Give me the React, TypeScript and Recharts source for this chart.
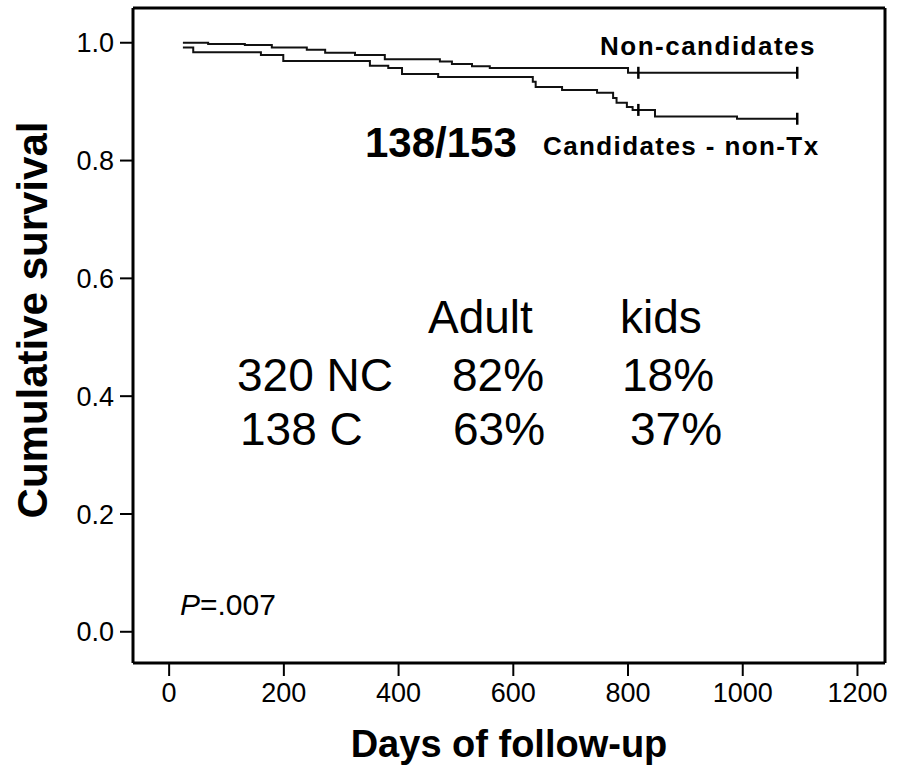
import React from 'react';
import { ComposedChart, Line, XAxis, YAxis, Label, ReferenceLine } from 'recharts';

// Kaplan-Meier steps (days, cumulative survival)
const NC_DAYS = [24, 68, 132, 179, 240, 272, 324, 376, 472, 493, 528, 559, 800, 818, 1095];
const NC_SURV = [1.0, 0.998, 0.996, 0.992, 0.988, 0.983, 0.979, 0.972, 0.968, 0.964, 0.96, 0.957, 0.949, 0.949, 0.949];

const C_DAYS = [24, 42, 160, 199, 350, 382, 406, 469, 634, 639, 685, 746, 774, 780, 798, 808, 818, 847, 990, 1095];
const C_SURV = [0.992, 0.984, 0.979, 0.969, 0.961, 0.957, 0.947, 0.942, 0.934, 0.925, 0.92, 0.915, 0.906, 0.898, 0.891, 0.886, 0.886, 0.875, 0.871, 0.871];

// censored observations (drawn as small ticks)
const CENSOR_DAYS = [818, 1095];

const X_TICKS = [0, 200, 400, 600, 800, 1000, 1200];
const Y_TICKS = [0, 0.2, 0.4, 0.6, 0.8, 1.0];
const X_DOMAIN = [-63, 1248];
const Y_DOMAIN = [-0.053, 1.059];

const TABLE_HEAD = ['Adult', 'kids'];
const TABLE_ROWS = [
  ['320 NC', '82%', '18%'],
  ['138 C', '63%', '37%'],
];

const FONT = '"Liberation Sans", Arial, Helvetica, sans-serif';

const toRows = (days: number[], surv: number[]) =>
  days.map((d, i) => ({ day: d, s: surv[i], censored: CENSOR_DAYS.includes(d) }));

const ncData = toRows(NC_DAYS, NC_SURV);
const cData = toRows(C_DAYS, C_SURV);

const CensorMark = (props: any) => {
  const { cx, cy, payload, index } = props;
  if (!payload || !payload.censored) return <g key={`n-${index}`} />;
  return (
    <line
      key={`c-${index}`}
      x1={cx}
      x2={cx}
      y1={cy - 6}
      y2={cy + 6}
      stroke="#000"
      strokeWidth={2.5}
    />
  );
};

const YTitle = () => (
  <text
    x={32}
    y={320}
    transform="rotate(-90 32 320)"
    textAnchor="middle"
    dominantBaseline="central"
    fontFamily={FONT}
    fontWeight="bold"
    fontSize={42}
    fill="#000"
  >
    Cumulative survival
  </text>
);

export default function App() {
  const tickStyle = { fill: '#000', fontSize: 27, fontFamily: FONT };
  return (
    <div style={{ position: 'absolute', left: 0, top: 0, width: 897, height: 766, background: '#fff' }}>
      <ComposedChart width={897} height={766} margin={{ top: 8, right: 12, bottom: 0, left: 0 }}>
        <XAxis
          dataKey="day"
          type="number"
          domain={X_DOMAIN}
          allowDataOverflow
          ticks={X_TICKS}
          height={103}
          tickSize={13}
          tickMargin={7}
          axisLine={{ stroke: '#000', strokeWidth: 3 }}
          tickLine={{ stroke: '#000', strokeWidth: 2 }}
          tick={tickStyle}
        >
          <Label
            value="Days of follow-up"
            position="insideBottom"
            offset={9}
            style={{ fill: '#000', fontSize: 38, fontWeight: 'bold', fontFamily: FONT }}
          />
        </XAxis>
        <YAxis
          type="number"
          domain={Y_DOMAIN}
          allowDataOverflow
          ticks={Y_TICKS}
          tickFormatter={(v: number) => v.toFixed(1)}
          width={133}
          tickSize={13}
          tickMargin={6}
          axisLine={{ stroke: '#000', strokeWidth: 3 }}
          tickLine={{ stroke: '#000', strokeWidth: 2 }}
          tick={tickStyle}
        >
          <Label content={<YTitle />} />
        </YAxis>
        {/* close the frame on top and right */}
        <ReferenceLine y={Y_DOMAIN[1]} stroke="#000" strokeWidth={3} ifOverflow="visible" />
        <ReferenceLine x={X_DOMAIN[1]} stroke="#000" strokeWidth={3} ifOverflow="visible" />
        <Line
          data={ncData}
          dataKey="s"
          name="Non-candidates"
          type="stepAfter"
          stroke="#111"
          strokeWidth={2}
          dot={CensorMark}
          activeDot={false}
          isAnimationActive={false}
        />
        <Line
          data={cData}
          dataKey="s"
          name="Candidates - non-Tx"
          type="stepAfter"
          stroke="#111"
          strokeWidth={2}
          dot={CensorMark}
          activeDot={false}
          isAnimationActive={false}
        />
      </ComposedChart>
      <svg
        width={897}
        height={766}
        style={{ position: 'absolute', left: 0, top: 0, pointerEvents: 'none' }}
        fontFamily={FONT}
        fill="#000"
      >
        <text x={600} y={55} fontSize={26} fontWeight="bold" letterSpacing={1.5}>
          Non-candidates
        </text>
        <text x={543} y={155} fontSize={26} fontWeight="bold" letterSpacing={1.4}>
          Candidates - non-Tx
        </text>
        <text x={365} y={157} fontSize={42} fontWeight="bold">
          138/153
        </text>
        <text x={428} y={333} fontSize={46}>{TABLE_HEAD[0]}</text>
        <text x={620} y={333} fontSize={46}>{TABLE_HEAD[1]}</text>
        <text x={237} y={391} fontSize={46}>{TABLE_ROWS[0][0]}</text>
        <text x={452} y={391} fontSize={46}>{TABLE_ROWS[0][1]}</text>
        <text x={622} y={391} fontSize={46}>{TABLE_ROWS[0][2]}</text>
        <text x={240} y={445} fontSize={46}>{TABLE_ROWS[1][0]}</text>
        <text x={453} y={445} fontSize={46}>{TABLE_ROWS[1][1]}</text>
        <text x={630} y={445} fontSize={46}>{TABLE_ROWS[1][2]}</text>
        <text x={180} y={615} fontSize={30}>
          <tspan fontStyle="italic">P</tspan>=.007
        </text>
      </svg>
    </div>
  );
}
